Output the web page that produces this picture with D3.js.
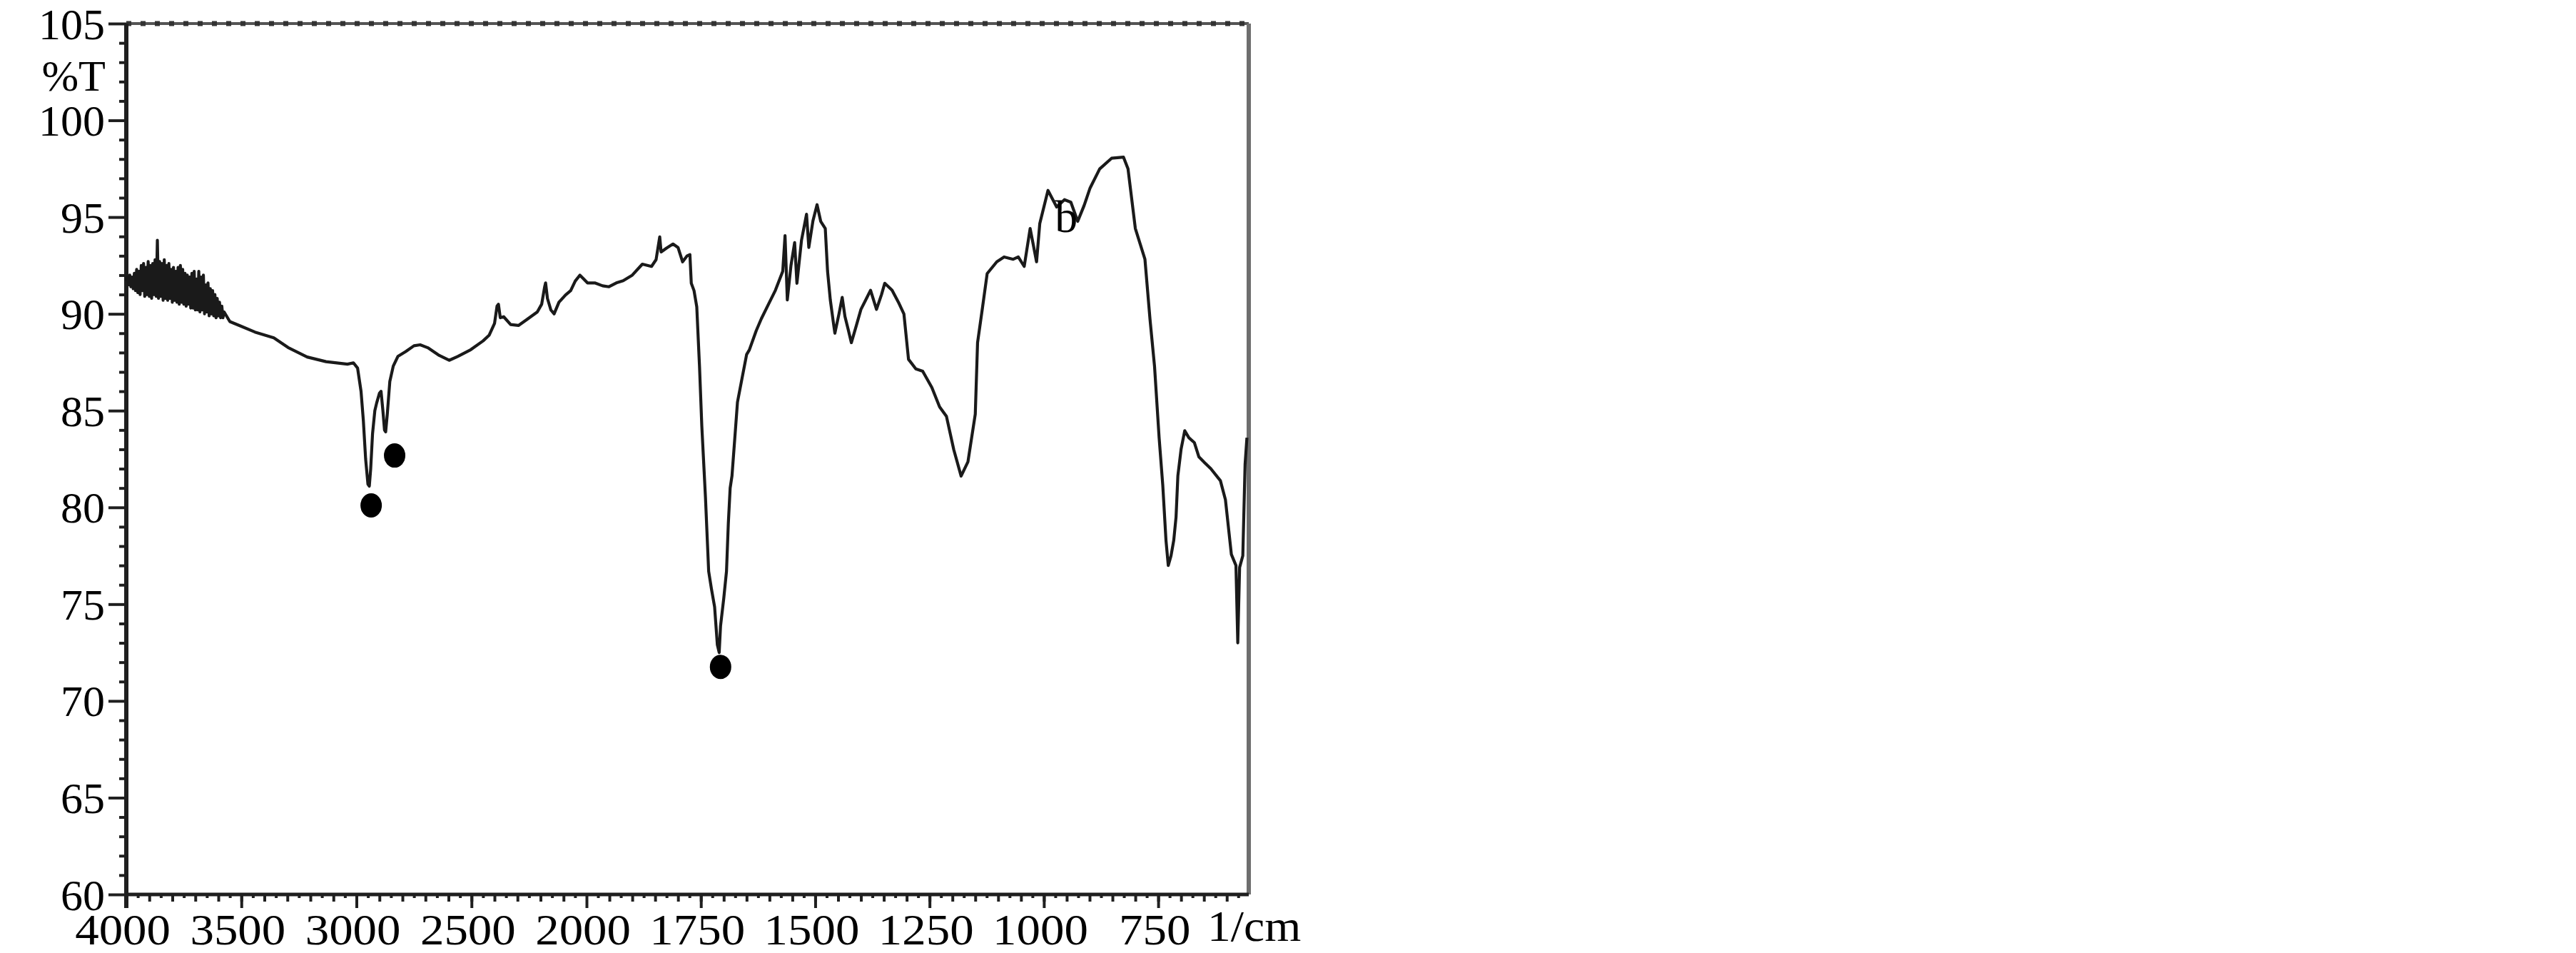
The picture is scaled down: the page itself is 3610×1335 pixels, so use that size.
<!DOCTYPE html>
<html>
<head>
<meta charset="utf-8">
<script src="https://cdn.jsdelivr.net/npm/d3@7"></script>
<style>
  body { margin: 0; background: #fff; }
  svg text { font-family: "Liberation Serif", "Times New Roman", serif; fill: #000; }
</style>
</head>
<body>
<svg id="chart" width="3610" height="1335"></svg>
<script>
// IR spectrum, wavenumber (1/cm) vs %T
const wavenumber = [
  4000, 3995, 3990, 3985, 3980, 3975, 3970, 3965, 3960, 3955, 3950, 3945, 3940, 3935, 3930, 3925,
  3920, 3915, 3910, 3905, 3900, 3895, 3890, 3885, 3880, 3875, 3870, 3865, 3860, 3855, 3850, 3845,
  3840, 3835, 3830, 3825, 3820, 3815, 3810, 3805, 3800, 3795, 3790, 3785, 3780, 3775, 3770, 3765,
  3760, 3755, 3750, 3745, 3740, 3735, 3730, 3725, 3720, 3715, 3710, 3705, 3700, 3695, 3690, 3685,
  3680, 3675, 3670, 3665, 3660, 3655, 3650, 3645, 3640, 3635, 3630, 3625, 3620, 3615, 3610, 3605,
  3600, 3595, 3590, 3585, 3580, 3575,
  3550, 3503, 3441,
  3359, 3297, 3214, 3132, 3039, 3013, 2995, 2980, 2970, 2960, 2950, 2944, 2938, 2930, 2920, 2912,
  2900, 2893, 2885, 2878, 2873, 2866, 2855, 2840, 2820, 2786, 2750, 2723, 2690, 2640, 2597, 2560,
  2503, 2450, 2423, 2400, 2389, 2383, 2375, 2360, 2330, 2296, 2260, 2214, 2195, 2182, 2178, 2170,
  2155, 2141, 2120, 2091, 2069, 2049, 2029, 2015, 1998, 1982, 1965, 1951, 1935, 1920, 1900, 1878,
  1858, 1848, 1840, 1837, 1825, 1811, 1800, 1790, 1780, 1774, 1771, 1765, 1759, 1753, 1748, 1740,
  1733, 1727, 1720, 1714, 1710, 1707, 1700, 1694, 1690, 1686, 1682, 1675, 1670, 1660, 1650, 1644,
  1629, 1618, 1600, 1587, 1571, 1566, 1561, 1553, 1545, 1540, 1530, 1519, 1514, 1505, 1496, 1488,
  1478, 1473, 1467, 1460, 1457, 1448, 1441, 1435, 1428, 1421, 1410, 1400, 1390, 1379, 1366, 1355,
  1348, 1332, 1318, 1306, 1296, 1280, 1265, 1245, 1228, 1213, 1197, 1181, 1166, 1150, 1145, 1134,
  1124, 1103, 1087, 1067, 1056, 1043, 1030, 1016, 1009, 991, 972, 955, 941, 926, 912, 899,
  878, 852, 826, 816, 800, 779, 768, 758, 748, 740, 733, 728, 722, 716, 711, 707,
  700, 692, 683, 671, 661, 648, 635, 614, 603, 590, 580, 576, 572, 565, 560, 556
];
const transmittance = [
  91.7, 91.9, 91.5, 92.0, 91.4, 91.9, 91.3, 92.1, 91.2, 92.3, 91.1, 92.2, 91.0, 92.5, 91.2, 92.6,
  90.9, 92.4, 91.0, 92.7, 90.9, 92.5, 90.8, 92.6, 91.0, 92.8, 90.9, 93.8, 90.8, 92.7, 90.9, 92.6,
  90.7, 92.8, 90.8, 92.5, 90.7, 92.6, 90.8, 92.3, 90.6, 92.4, 90.7, 92.2, 90.6, 92.4, 90.5, 92.5,
  90.6, 92.3, 90.5, 92.1, 90.4, 92.0, 90.5, 91.9, 90.3, 92.1, 90.3, 92.2, 90.2, 91.8, 90.2, 92.2,
  90.1, 91.9, 90.2, 92.0, 90.0, 91.5, 90.1, 91.6, 89.9, 91.3, 90.0, 91.2, 89.9, 91.0, 89.8, 90.8,
  89.9, 90.6, 89.8, 90.4, 89.8, 90.1,
  89.6, 89.37, 89.06,
  88.76, 88.26, 87.77, 87.53, 87.4, 87.47, 87.2, 86.0, 84.5, 82.5, 81.2, 81.1, 82.0, 83.8, 85.0, 85.4,
  85.9, 86.0, 85.0, 84.0, 83.9, 84.8, 86.5, 87.3, 87.8, 88.05, 88.35, 88.4, 88.25, 87.85, 87.6, 87.8,
  88.15, 88.6, 88.9, 89.5, 90.4, 90.5, 89.8, 89.85, 89.45, 89.4, 89.7, 90.1, 90.5, 91.4, 91.6, 90.8,
  90.2, 90.0, 90.6, 90.98, 91.2, 91.7, 92.0, 91.83, 91.6, 91.6, 91.45, 91.4, 91.6, 91.71, 92.0, 92.57,
  92.45, 92.8, 93.98, 93.2, 93.4, 93.61, 93.43, 92.69, 93.0, 93.06, 91.58, 91.2, 90.36, 87.28, 84.21, 80.52,
  76.7, 75.8, 74.86, 72.9, 72.5, 73.88, 75.3, 76.7, 79.17, 81.0, 81.63, 83.84, 85.44, 86.67, 87.9, 88.14,
  89.13, 89.74, 90.6, 91.22, 92.2, 94.04, 90.72, 92.5, 93.68, 91.58, 93.8, 95.15, 93.43, 94.8, 95.64, 94.78,
  94.41, 92.2, 90.72, 89.5, 89.0, 90.0, 90.85, 89.87, 89.2, 88.51, 89.4, 90.23, 90.7, 91.22, 90.23, 91.0,
  91.58, 91.22, 90.6, 89.99, 87.65, 87.16, 87.04, 86.2, 85.19, 84.7, 82.98, 81.62, 82.36, 84.82, 88.51, 90.36,
  92.08, 92.69, 92.94, 92.82, 92.94, 92.45, 94.41, 92.69, 94.66, 96.38, 95.52, 95.9, 95.77, 94.78, 95.6, 96.5,
  97.49, 98.04, 98.1, 97.49, 94.41, 92.82, 89.74, 87.28, 83.6, 81.14, 78.3, 77.0, 77.5, 78.3, 79.5, 81.63,
  83.0, 83.96, 83.6, 83.35, 82.61, 82.3, 82.0, 81.38, 80.4, 77.57, 77.0, 73.0, 76.9, 77.5, 82.24, 83.6
];

// marked bands (black dots) and the "b" tag
const markWn = [2936, 2834, 1707];
const markT = [80.1, 82.68, 71.76];
const tagText = "b";
const tagWn = 976;
const tagT = 94.23;

const xTicks = [4000, 3500, 3000, 2500, 2000, 1750, 1500, 1250, 1000, 750];
const yTicks = [60, 65, 70, 75, 80, 85, 90, 95, 100, 105];
const xUnit = "1/cm";
const yUnit = "%T";

const svg = d3.select('#chart');
const plotL = 177, plotR = 1750, plotT = 33, plotB = 1253;

// the instrument compresses 4000-2000 to half scale
const x = d3.scaleLinear().domain([4000, 2000, 552]).range([plotL, 822, plotR]);
const y = d3.scaleLinear().domain([60, 105]).range([plotB, plotT]);

const axisColor = '#1f1f1f';

// minor x ticks
const xMinor = d3.range(3900, 2000, -100).concat(d3.range(1950, 552, -50));
const xTiny = d3.range(3950, 2000, -100).concat(d3.range(1975, 552, -50));
svg.append('g').attr('transform', `translate(0,${plotB})`)
  .call(d3.axisBottom(x).tickValues(xTiny).tickSize(5).tickSizeOuter(0).tickFormat(''))
  .call(g => g.select('.domain').remove());
svg.append('g').attr('transform', `translate(0,${plotB})`)
  .call(d3.axisBottom(x).tickValues(xMinor).tickSize(10).tickSizeOuter(0).tickFormat(''))
  .call(g => g.select('.domain').remove());

// major x ticks + labels
const xAxis = svg.append('g').attr('transform', `translate(0,${plotB})`)
  .call(d3.axisBottom(x).tickValues(xTicks).tickSize(19).tickSizeOuter(0).tickFormat(d3.format('d')));
xAxis.selectAll('text')
  .attr('y', 70).attr('dy', 0).attr('x', -5)
  .attr('font-size', 62)
  .attr('transform', 'scale(1.08,1)');

// minor y ticks
const yMinor = d3.range(61, 105).filter(v => v % 5 !== 0);
svg.append('g').attr('transform', `translate(${plotL},0)`)
  .call(d3.axisLeft(y).tickValues(yMinor).tickSize(10).tickSizeOuter(0).tickFormat(''))
  .call(g => g.select('.domain').remove());

const yAxis = svg.append('g').attr('transform', `translate(${plotL},0)`)
  .call(d3.axisLeft(y).tickValues(yTicks).tickSize(25).tickPadding(5).tickSizeOuter(0).tickFormat(d3.format('d')));
yAxis.selectAll('text').attr('font-size', 62).attr('dy', '0.34em');

svg.selectAll('.tick line').attr('stroke', axisColor).attr('stroke-width', 4);
svg.selectAll('.domain').remove();

// frame
svg.append('line').attr('x1', plotL).attr('x2', plotR).attr('y1', plotT).attr('y2', plotT)
  .attr('stroke', '#555').attr('stroke-width', 4);
svg.append('line').attr('x1', plotL).attr('x2', plotR).attr('y1', plotT).attr('y2', plotT)
  .attr('stroke', '#333').attr('stroke-width', 7).attr('stroke-dasharray', '7 13');
svg.append('line').attr('x1', plotR).attr('x2', plotR).attr('y1', plotT).attr('y2', plotB)
  .attr('stroke', '#6e6e6e').attr('stroke-width', 6);
svg.append('line').attr('x1', plotL).attr('x2', plotR).attr('y1', plotB).attr('y2', plotB)
  .attr('stroke', axisColor).attr('stroke-width', 5);
svg.append('line').attr('x1', plotL).attr('x2', plotL).attr('y1', plotT).attr('y2', plotB + 19)
  .attr('stroke', axisColor).attr('stroke-width', 6);

// unit labels
svg.append('text').attr('x', 148).attr('y', 127).attr('text-anchor', 'end')
  .attr('font-size', 62).text(yUnit);
svg.append('g').attr('transform', `translate(1692,1318) scale(1.06,1)`)
  .append('text').attr('font-size', 62).text(xUnit);

// spectrum
const pts = wavenumber.map((w, i) => [w, transmittance[i]]);
svg.append('path').datum(pts)
  .attr('fill', 'none').attr('stroke', '#1a1a1a').attr('stroke-width', 4.2)
  .attr('stroke-linejoin', 'round')
  .attr('d', d3.line().x(d => x(d[0])).y(d => y(d[1])));

// dots
svg.append('g').selectAll('ellipse')
  .data(markWn.map((w, i) => [w, markT[i]])).enter().append('ellipse')
  .attr('cx', d => x(d[0])).attr('cy', d => y(d[1]))
  .attr('rx', 15).attr('ry', 17).attr('fill', '#000');

svg.append('text').attr('x', x(tagWn)).attr('y', y(tagT))
  .attr('font-size', 64).text(tagText);
</script>
</body>
</html>
